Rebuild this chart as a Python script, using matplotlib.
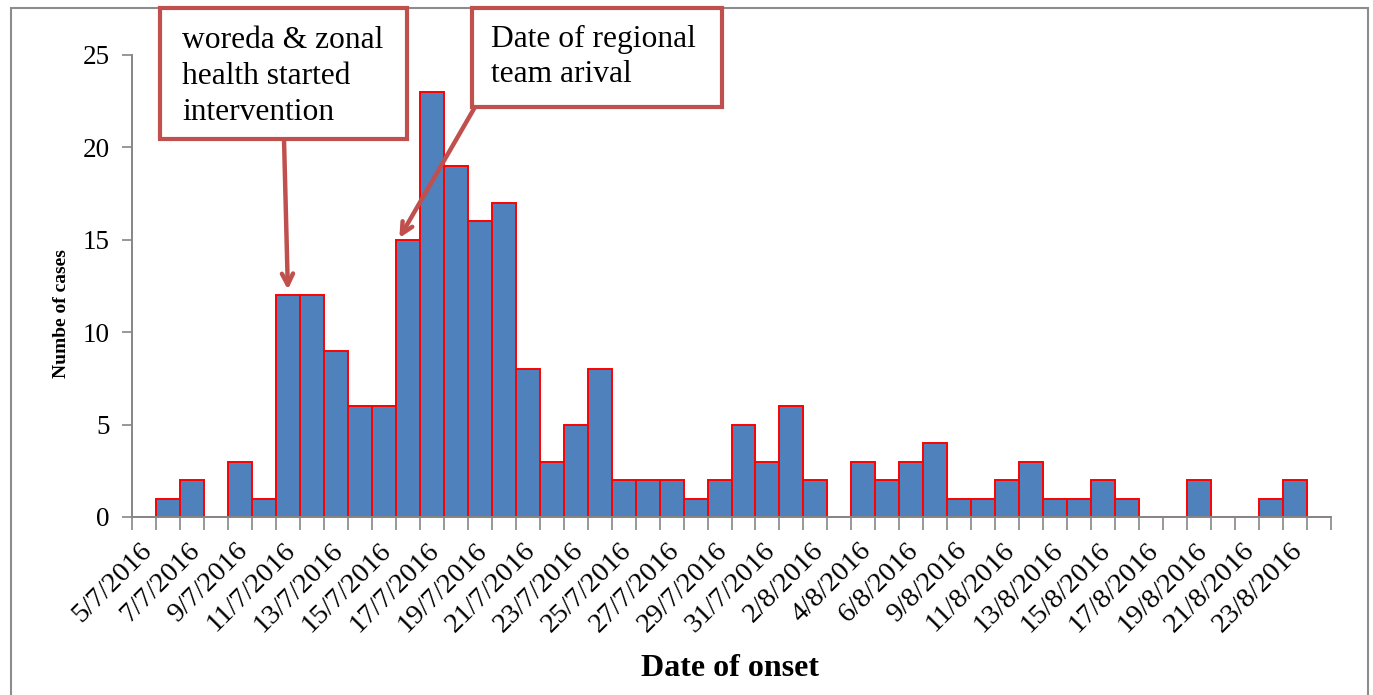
import matplotlib.pyplot as plt
from matplotlib.patches import Rectangle
from matplotlib.transforms import ScaledTranslation

plt.rcParams['font.family'] = ['Liberation Serif', 'DejaVu Serif']

# daily case counts by date of onset (one category per day, 7/8 not reported)
dates = [
    "5/7/2016", "6/7/2016", "7/7/2016", "8/7/2016", "9/7/2016", "10/7/2016",
    "11/7/2016", "12/7/2016", "13/7/2016", "14/7/2016", "15/7/2016", "16/7/2016",
    "17/7/2016", "18/7/2016", "19/7/2016", "20/7/2016", "21/7/2016", "22/7/2016",
    "23/7/2016", "24/7/2016", "25/7/2016", "26/7/2016", "27/7/2016", "28/7/2016",
    "29/7/2016", "30/7/2016", "31/7/2016", "1/8/2016", "2/8/2016", "3/8/2016",
    "4/8/2016", "5/8/2016", "6/8/2016", "8/8/2016", "9/8/2016", "10/8/2016",
    "11/8/2016", "12/8/2016", "13/8/2016", "14/8/2016", "15/8/2016", "16/8/2016",
    "17/8/2016", "18/8/2016", "19/8/2016", "20/8/2016", "21/8/2016", "22/8/2016",
    "23/8/2016", "24/8/2016",
]
cases = [
    0, 1, 2, 0, 3, 1, 12, 12, 9, 6, 6, 15, 23, 19, 16, 17, 8, 3, 5, 8,
    2, 2, 2, 1, 2, 5, 3, 6, 2, 0, 3, 2, 3, 4, 1, 1, 2, 3, 1, 1,
    2, 1, 0, 0, 2, 0, 0, 1, 2, 0,
]

ANNOT_COLOR = "#C0504D"
AXIS_GRAY = "#868686"

W, H = 1373, 695
fig = plt.figure(figsize=(W / 100, H / 100), dpi=100)


def px(x, y):
    """pixel position (top-left origin) -> figure fraction"""
    return x / W, 1 - y / H


# chart-area border
fig.patches.append(Rectangle((11 / W, -0.02), 1357 / W, (H - 8) / H + 0.02,
                             transform=fig.transFigure, fill=False,
                             edgecolor="#8C8C8C", lw=1.5, zorder=0))

ax = fig.add_axes([132 / W, (H - 517) / H, 1199 / W, 462 / H])
x = list(range(len(cases)))
ax.bar(x, cases, width=1.0, color="#4F81BD", edgecolor="#FF0000", linewidth=1.4)

ax.set_xlim(-0.5, len(cases) - 0.5)
ax.set_ylim(0, 25)
ax.set_yticks(range(0, 26, 5))
ax.tick_params(axis="y", direction="out", length=7, width=1.2, color=AXIS_GRAY,
               labelsize=19.5, pad=9)

# tick marks on category boundaries, labels on every other category
ax.set_xticks([i - 0.5 for i in range(len(cases) + 1)])
ax.set_xticklabels([])
ax.set_xticks(x[::2], minor=True)
ax.set_xticklabels(dates[::2], minor=True, rotation=45, ha="right",
                   rotation_mode="anchor", fontsize=20.5)
ax.tick_params(axis="x", which="major", direction="out", length=9, width=1.2,
               color=AXIS_GRAY)
ax.tick_params(axis="x", which="minor", length=0, pad=15)
shift = ScaledTranslation(-0.05, 0, fig.dpi_scale_trans)
for lab in ax.get_xticklabels(minor=True):
    lab.set_transform(lab.get_transform() + shift)

for side in ("top", "right"):
    ax.spines[side].set_visible(False)
for side in ("left", "bottom"):
    ax.spines[side].set_color(AXIS_GRAY)
    ax.spines[side].set_linewidth(1.4)

fig.text(*px(62, 314), "Numbe of cases", fontsize=14, fontweight="bold",
         rotation=90, ha="center", va="center")
fig.text(*px(730, 668), "Date of onset", fontsize=23, fontweight="bold",
         ha="center", va="center")

# callout boxes: (box corners), text left edge, line baselines, lines
boxes = [
    ((160, 8, 407, 139), 182, [48, 84, 120],
     ["woreda & zonal", "health started", "intervention"]),
    ((472, 8, 722, 107), 491, [47, 82],
     ["Date of regional", "team arival"]),
]
for (x0, y0, x1, y1), tx, baselines, lines in boxes:
    fx, fy = px(x0, y1)
    fig.patches.append(Rectangle((fx, fy), (x1 - x0) / W, (y1 - y0) / H,
                                 transform=fig.transFigure, facecolor="white",
                                 edgecolor=ANNOT_COLOR, lw=3, zorder=5))
    for by, line in zip(baselines, lines):
        fig.text(*px(tx, by), line, fontsize=22.7, ha="left", va="baseline",
                 zorder=6)

arrow = dict(arrowstyle="->,head_length=0.8,head_width=0.4", color=ANNOT_COLOR,
             lw=3.2, shrinkA=0, shrinkB=0)
ax.annotate("", xy=(6.0, 12.3), xycoords="data",
            xytext=px(284, 139), textcoords="figure fraction",
            arrowprops=arrow, annotation_clip=False, zorder=7)
ax.annotate("", xy=(10.65, 15.1), xycoords="data",
            xytext=px(475, 107), textcoords="figure fraction",
            arrowprops=arrow, annotation_clip=False, zorder=7)

fig.savefig("out.png", dpi=100)
